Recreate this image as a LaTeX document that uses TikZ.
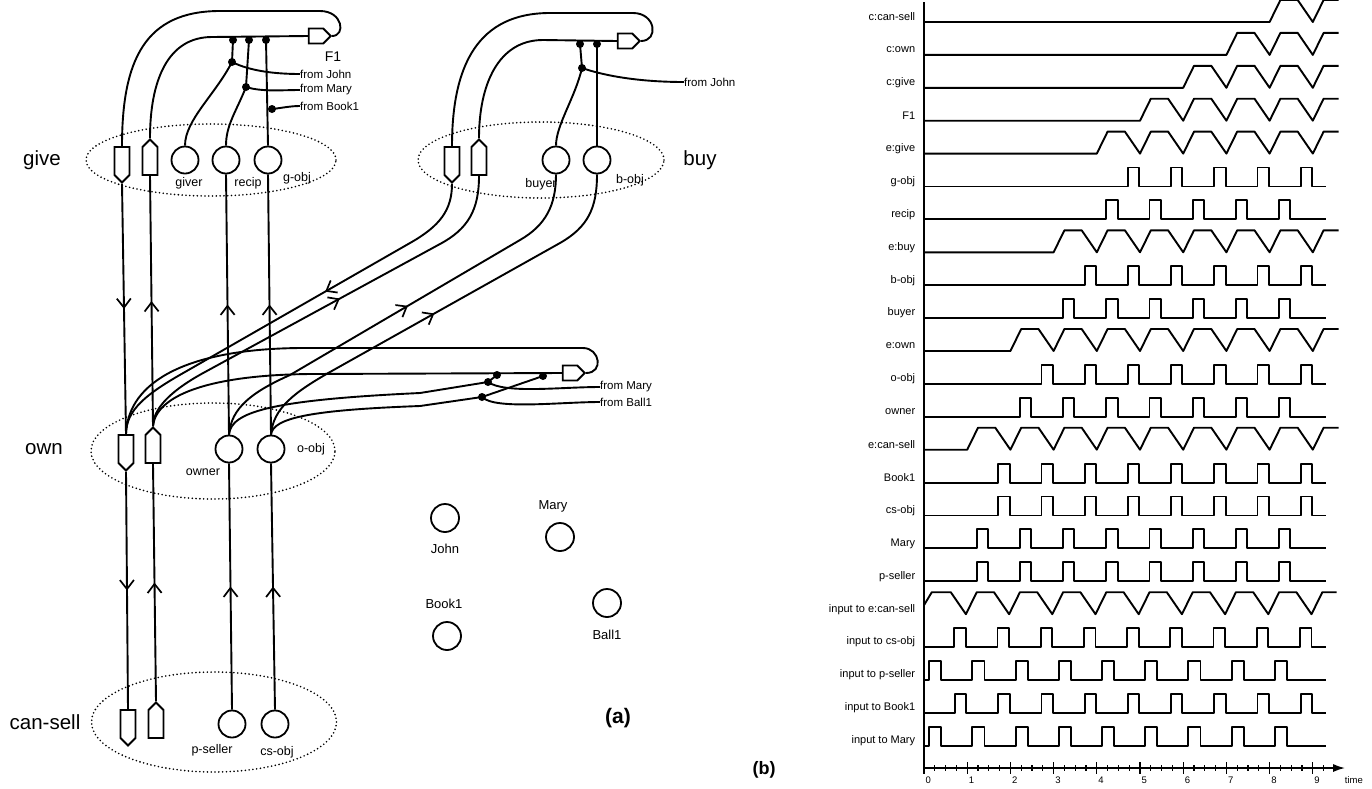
\documentclass[tikz,border=0pt]{standalone}
\usepackage{fontspec}
\setmainfont{Liberation Sans}
\usetikzlibrary{shapes.symbols,shapes.geometric,arrows.meta,decorations.markings}
\tikzset{
  wire/.style={line width=1.9pt},
  sig/.style={line width=1.9pt,line join=round},
  rolec/.style={circle,draw,line width=1.8pt,minimum size=27pt,inner sep=0pt,fill=white},
  enab/.style={signal,signal to=south,draw,line width=1.8pt,minimum width=15pt,minimum height=28pt,inner sep=0pt,fill=white},
  coll/.style={signal,signal to=north,draw,line width=1.8pt,minimum width=15pt,minimum height=28pt,inner sep=0pt,fill=white},
  fact/.style={signal,signal to=east,draw,line width=1.8pt,minimum width=22pt,minimum height=15pt,inner sep=0pt,fill=white},
  bdot/.style={circle,fill,inner sep=0pt,minimum size=8pt},
  cluster/.style={ellipse,draw,line width=1.8pt,dash pattern=on 0pt off 3.8pt,line cap=round,inner sep=0pt},
  biglab/.style={font=\fontsize{20.5}{24}\selectfont,inner sep=0pt},
  rolelab/.style={font=\fontsize{12.5}{15}\selectfont,inner sep=0pt},
  entlab/.style={font=\fontsize{13}{15}\selectfont,inner sep=0pt},
  fromlab/.style={font=\fontsize{11.5}{14}\selectfont,inner sep=0pt,anchor=west},
  tlab/.style={font=\fontsize{11}{13}\selectfont,inner sep=0pt,anchor=east},
  ticklab/.style={font=\fontsize{9.5}{11}\selectfont,inner sep=0pt},
  midfwd/.style={postaction={decorate},decoration={markings,mark=at position #1 with {\arrow{Straight Barb[length=9pt,width=14pt,line width=1.7pt]}}}},
}
\newcommand{\sigtrap}[3]{%
  \pgfmathsetmacro{\yy}{\yz+#1*\rsp}
  \node[tlab] (lab#1) at (-0.2,\yy-5) {#3};
  \draw[sig] (0,\yy) -- (#2,\yy) \foreach \k in {#2,...,8} { -- (\k+0.25,\yy-22) -- (\k+0.65,\yy-22) -- (\k+1,\yy) } -- (9.25,\yy-22) -- (9.6,\yy-22);
}
\newcommand{\sigpulse}[5]{%
  \pgfmathsetmacro{\yy}{\yz+#1*\rsp}
  \node[tlab] (lab#1) at (-0.2,\yy-5) {#5};
  \draw[sig] (0,\yy) \foreach \k in {#2,...,8} { -- (\k+#3,\yy) -- (\k+#3,\yy-19) -- (\k+#4,\yy-19) -- (\k+#4,\yy) } -- (9.3,\yy);
}
\begin{document}
\begin{tikzpicture}[x=1pt,y=-1pt]
\useasboundingbox (0,0) rectangle (1372,788);
\fill[white] (0,0) rectangle (1372,788);

% ---------------- panel (a) ----------------
\node[cluster,minimum width=250pt,minimum height=72pt] (giveCl) at (211,160) {};
\node[cluster,minimum width=246pt,minimum height=76pt] (buyCl) at (541,160) {};
\node[cluster,minimum width=244pt,minimum height=96pt] (ownCl) at (213,451) {};
\node[cluster,minimum width=245pt,minimum height=100pt] (csCl) at (214,722) {};

\node[biglab] (giveL) at (42,160) {give};
\node[biglab] (ownL) at (44,449) {own};
\node[biglab] (csL) at (45,722) {can-sell};
\node[biglab] (buyL) at (700,160) {buy};

% give
\node[enab] (gE) at (122,161) {};
\node[coll] (gC) at (150,161) {};
\node[rolec] (giver) at (185,160) {};
\node[rolec] (recip) at (226,160) {};
\node[rolec] (gobj) at (268,160) {};
\node[rolelab] (giverL) at (189,183) {giver};
\node[rolelab] (recipL) at (248,183) {recip};
\node[rolelab] (gobjL) at (297,178) {g-obj};
\node[fact] (gF) at (316,36) {};
\node[font=\fontsize{14}{16}\selectfont,inner sep=0pt] (F1L) at (333,57) {F1};

% buy
\node[enab] (bE) at (452,161) {};
\node[coll] (bC) at (479,161) {};
\node[rolec] (buyer) at (556,160) {};
\node[rolec] (bobj) at (597,160) {};
\node[rolelab] (buyerL) at (541,184) {buyer};
\node[rolelab] (bobjL) at (630,180) {b-obj};
\node[fact] (bF) at (625,41) {};

% own
\node[enab] (oE) at (126,449) {};
\node[coll] (oC) at (153,449) {};
\node[rolec] (owner) at (229,449) {};
\node[rolec] (oobj) at (271,449) {};
\node[rolelab] (ownerL) at (203,472) {owner};
\node[rolelab] (oobjL) at (311,449) {o-obj};
\node[fact] (oF) at (570,373) {};

% can-sell
\node[enab] (cE) at (128,724) {};
\node[coll] (cC) at (156,724) {};
\node[rolec] (pseller) at (232,724) {};
\node[rolec] (csobj) at (275,724) {};
\node[rolelab] (psellerL) at (212,750) {p-seller};
\node[rolelab] (csobjL) at (277,752) {cs-obj};

% entities
\node[rolec,minimum size=28pt] (john) at (445,518) {};
\node[entlab] (johnL) at (445,549) {John};
\node[rolec,minimum size=28pt] (mary) at (560,537) {};
\node[entlab] (maryL) at (553,506) {Mary};
\node[rolec,minimum size=28pt] (book) at (447,636) {};
\node[entlab] (bookL) at (444,604) {Book1};
\node[rolec,minimum size=28pt] (ball) at (607,603) {};
\node[entlab] (ballL) at (607,635) {Ball1};
\node[font=\fontsize{21}{24}\selectfont\bfseries,inner sep=0pt] (aL) at (618,718) {(a)};

% vertical connectors
\draw[wire,midfwd=0.5] (gE.south) -- (oE.north);
\draw[wire,midfwd=0.5] (oC.north) -- (gC.south);
\draw[wire,midfwd=0.5] (owner.north) -- (recip.south);
\draw[wire,midfwd=0.5] (oobj.north) -- (gobj.south);
\draw[wire,midfwd=0.5] (oE.south) -- (cE.north);
\draw[wire,midfwd=0.5] (cC.north) -- (oC.south);
\draw[wire,midfwd=0.5] (pseller.north) -- (owner.south);
\draw[wire,midfwd=0.5] (csobj.north) -- (oobj.south);

% give tube
\draw[wire] (gE.north) .. controls (122,60) and (145,11) .. (220,11) -- (320,11) .. controls (343,11) and (346,36) .. (gF.east);
\draw[wire] (gC.north) .. controls (150,80) and (168,37) .. (212,37) -- (gF.west);
\node[bdot] (gd1) at (233,40) {};
\node[bdot] (gd2) at (249,40) {};
\node[bdot] (gd3) at (266,40) {};
\node[bdot] (gb1) at (232,62) {};
\node[bdot] (gb2) at (246,87) {};
\node[bdot] (gb3) at (272,109) {};
\draw[wire] (gd1.center) -- (gb1.center) .. controls (215,95) and (185,120) .. (giver.north);
\draw[wire] (gd2.center) -- (gb2.center) .. controls (236,112) and (226,125) .. (recip.north);
\draw[wire] (gd3.center) -- (gobj.north);
\node[fromlab] (gfj) at (300,74) {from John};
\node[fromlab] (gfm) at (300,90) {from Mary};
\node[fromlab] (gfb) at (300,106) {from Book1};
\draw[wire] (gb1.center) .. controls (250,71) and (275,74) .. (gfj.west);
\draw[wire] (gb2.center) .. controls (262,92) and (282,90) .. (gfm.west);
\draw[wire] (gb3.center) .. controls (282,108) and (290,106) .. (gfb.west);

% buy tube
\draw[wire] (bE.north) .. controls (452,65) and (478,13) .. (550,13) -- (633,13) .. controls (656,13) and (659,41) .. (bF.east);
\draw[wire] (bC.north) .. controls (479,85) and (498,40) .. (543,40) -- (bF.west);
\node[bdot] (bd1) at (580,44) {};
\node[bdot] (bd2) at (597,44) {};
\node[bdot] (bb1) at (582,68) {};
\draw[wire] (bd1.center) -- (bb1.center) .. controls (575,98) and (556,125) .. (buyer.north);
\draw[wire] (bd2.center) -- (bobj.north);
\node[fromlab] (bfj) at (684,82) {from John};
\draw[wire] (bb1.center) .. controls (605,76) and (640,82) .. (bfj.west);

% own tube
\draw[wire] (oE.north) .. controls (128,380) and (190,349) .. (300,348) -- (583,348) .. controls (600,348) and (604,373) .. (oF.east);
\draw[wire] (oC.north) .. controls (156,395) and (210,375) .. (310,374) -- (oF.west);
\node[bdot] (od1) at (497,375) {};
\node[bdot] (od2) at (543,376) {};
\node[bdot] (ob1) at (488,382) {};
\node[bdot] (ob2) at (482,397) {};
\draw[wire] (owner.north) .. controls (231,412) and (270,400) .. (420,393) -- (ob1.center) -- (od1.center);
\draw[wire] (oobj.north) .. controls (273,418) and (310,410) .. (420,406) -- (ob2.center) -- (od2.center);
\node[fromlab] (ofm) at (600,387) {from Mary};
\node[fromlab] (ofb) at (600,402) {from Ball1};
\draw[wire] (ob1.center) .. controls (505,394) and (560,387) .. (ofm.west);
\draw[wire] (ob2.center) .. controls (495,410) and (560,402) .. (ofb.west);

% diagonals own <-> buy
\draw[wire,midfwd=0.41] (bE.south) .. controls (452,210) and (440,226) .. (410,243) -- (185,372) .. controls (146,394) and (126,410) .. (oE.north);
\draw[wire,midfwd=0.54] (oC.north) .. controls (153,410) and (168,392) .. (205,372) -- (440,244) .. controls (468,229) and (479,210) .. (bC.south);
\draw[wire,midfwd=0.52] (owner.north) .. controls (231,408) and (252,392) .. (290,375) -- (520,240) .. controls (546,225) and (556,205) .. (buyer.south);
\draw[wire,midfwd=0.48] (oobj.north) .. controls (273,408) and (295,392) .. (330,372) -- (560,243) .. controls (588,227) and (597,208) .. (bobj.south);

% ---------------- panel (b) ----------------
\node[font=\fontsize{18}{22}\selectfont\bfseries,inner sep=0pt] (bL) at (764,770) {(b)};
\begin{scope}[xshift=924pt,x=43.2pt]
\def\yz{22}\def\rsp{32.9}
\draw[line width=1.9pt] (0,2) -- (0,768) -- (9.45,768);
\draw[line width=1.9pt,-{Latex[length=12pt,width=8pt]}] (9.2,768) -- (9.75,768);
\foreach \t in {0,0.25,...,9.3} { \draw[line width=1.3pt] (\t,765) -- (\t,771); }
\foreach \t in {0,...,9} {
  \draw[line width=1.3pt] (\t,762) -- (\t,774);
  \node[ticklab] (tk\t) at (\t+0.1,780.5) {\t};
}
\node[ticklab] (timeL) at (9.95,780.5) {time};

\sigtrap{0}{8}{c:can-sell}
\sigtrap{1}{7}{c:own}
\sigtrap{2}{6}{c:give}
\sigtrap{3}{5}{F1}
\sigtrap{4}{4}{e:give}
\sigpulse{5}{4}{0.72}{0.98}{g-obj}
\sigpulse{6}{4}{0.22}{0.48}{recip}
\sigtrap{7}{3}{e:buy}
\sigpulse{8}{3}{0.72}{0.98}{b-obj}
\sigpulse{9}{3}{0.22}{0.48}{buyer}
\sigtrap{10}{2}{e:own}
\sigpulse{11}{2}{0.72}{0.98}{o-obj}
\sigpulse{12}{2}{0.22}{0.48}{owner}
\sigtrap{13}{1}{e:can-sell}
\sigpulse{14}{1}{0.72}{0.98}{Book1}
\sigpulse{15}{1}{0.72}{0.98}{cs-obj}
\sigpulse{16}{1}{0.22}{0.48}{Mary}
\sigpulse{17}{1}{0.22}{0.48}{p-seller}
\pgfmathsetmacro{\yy}{\yz+18*\rsp}
\node[tlab] (lab18) at (-0.2,\yy-5) {input to e:can-sell};
\draw[sig] (0,\yy-9) -- (0.18,\yy-22) -- (0.62,\yy-22) -- (0.97,\yy) \foreach \k in {1,...,8} { -- (\k+0.22,\yy-22) -- (\k+0.62,\yy-22) -- (\k+0.97,\yy) } -- (9.22,\yy-22) -- (9.55,\yy-22);
\sigpulse{19}{0}{0.70}{0.97}{input to cs-obj}
\sigpulse{20}{0}{0.12}{0.40}{input to p-seller}
\sigpulse{21}{0}{0.72}{0.98}{input to Book1}
\sigpulse{22}{0}{0.12}{0.40}{input to Mary}
\end{scope}
\end{tikzpicture}
\end{document}
